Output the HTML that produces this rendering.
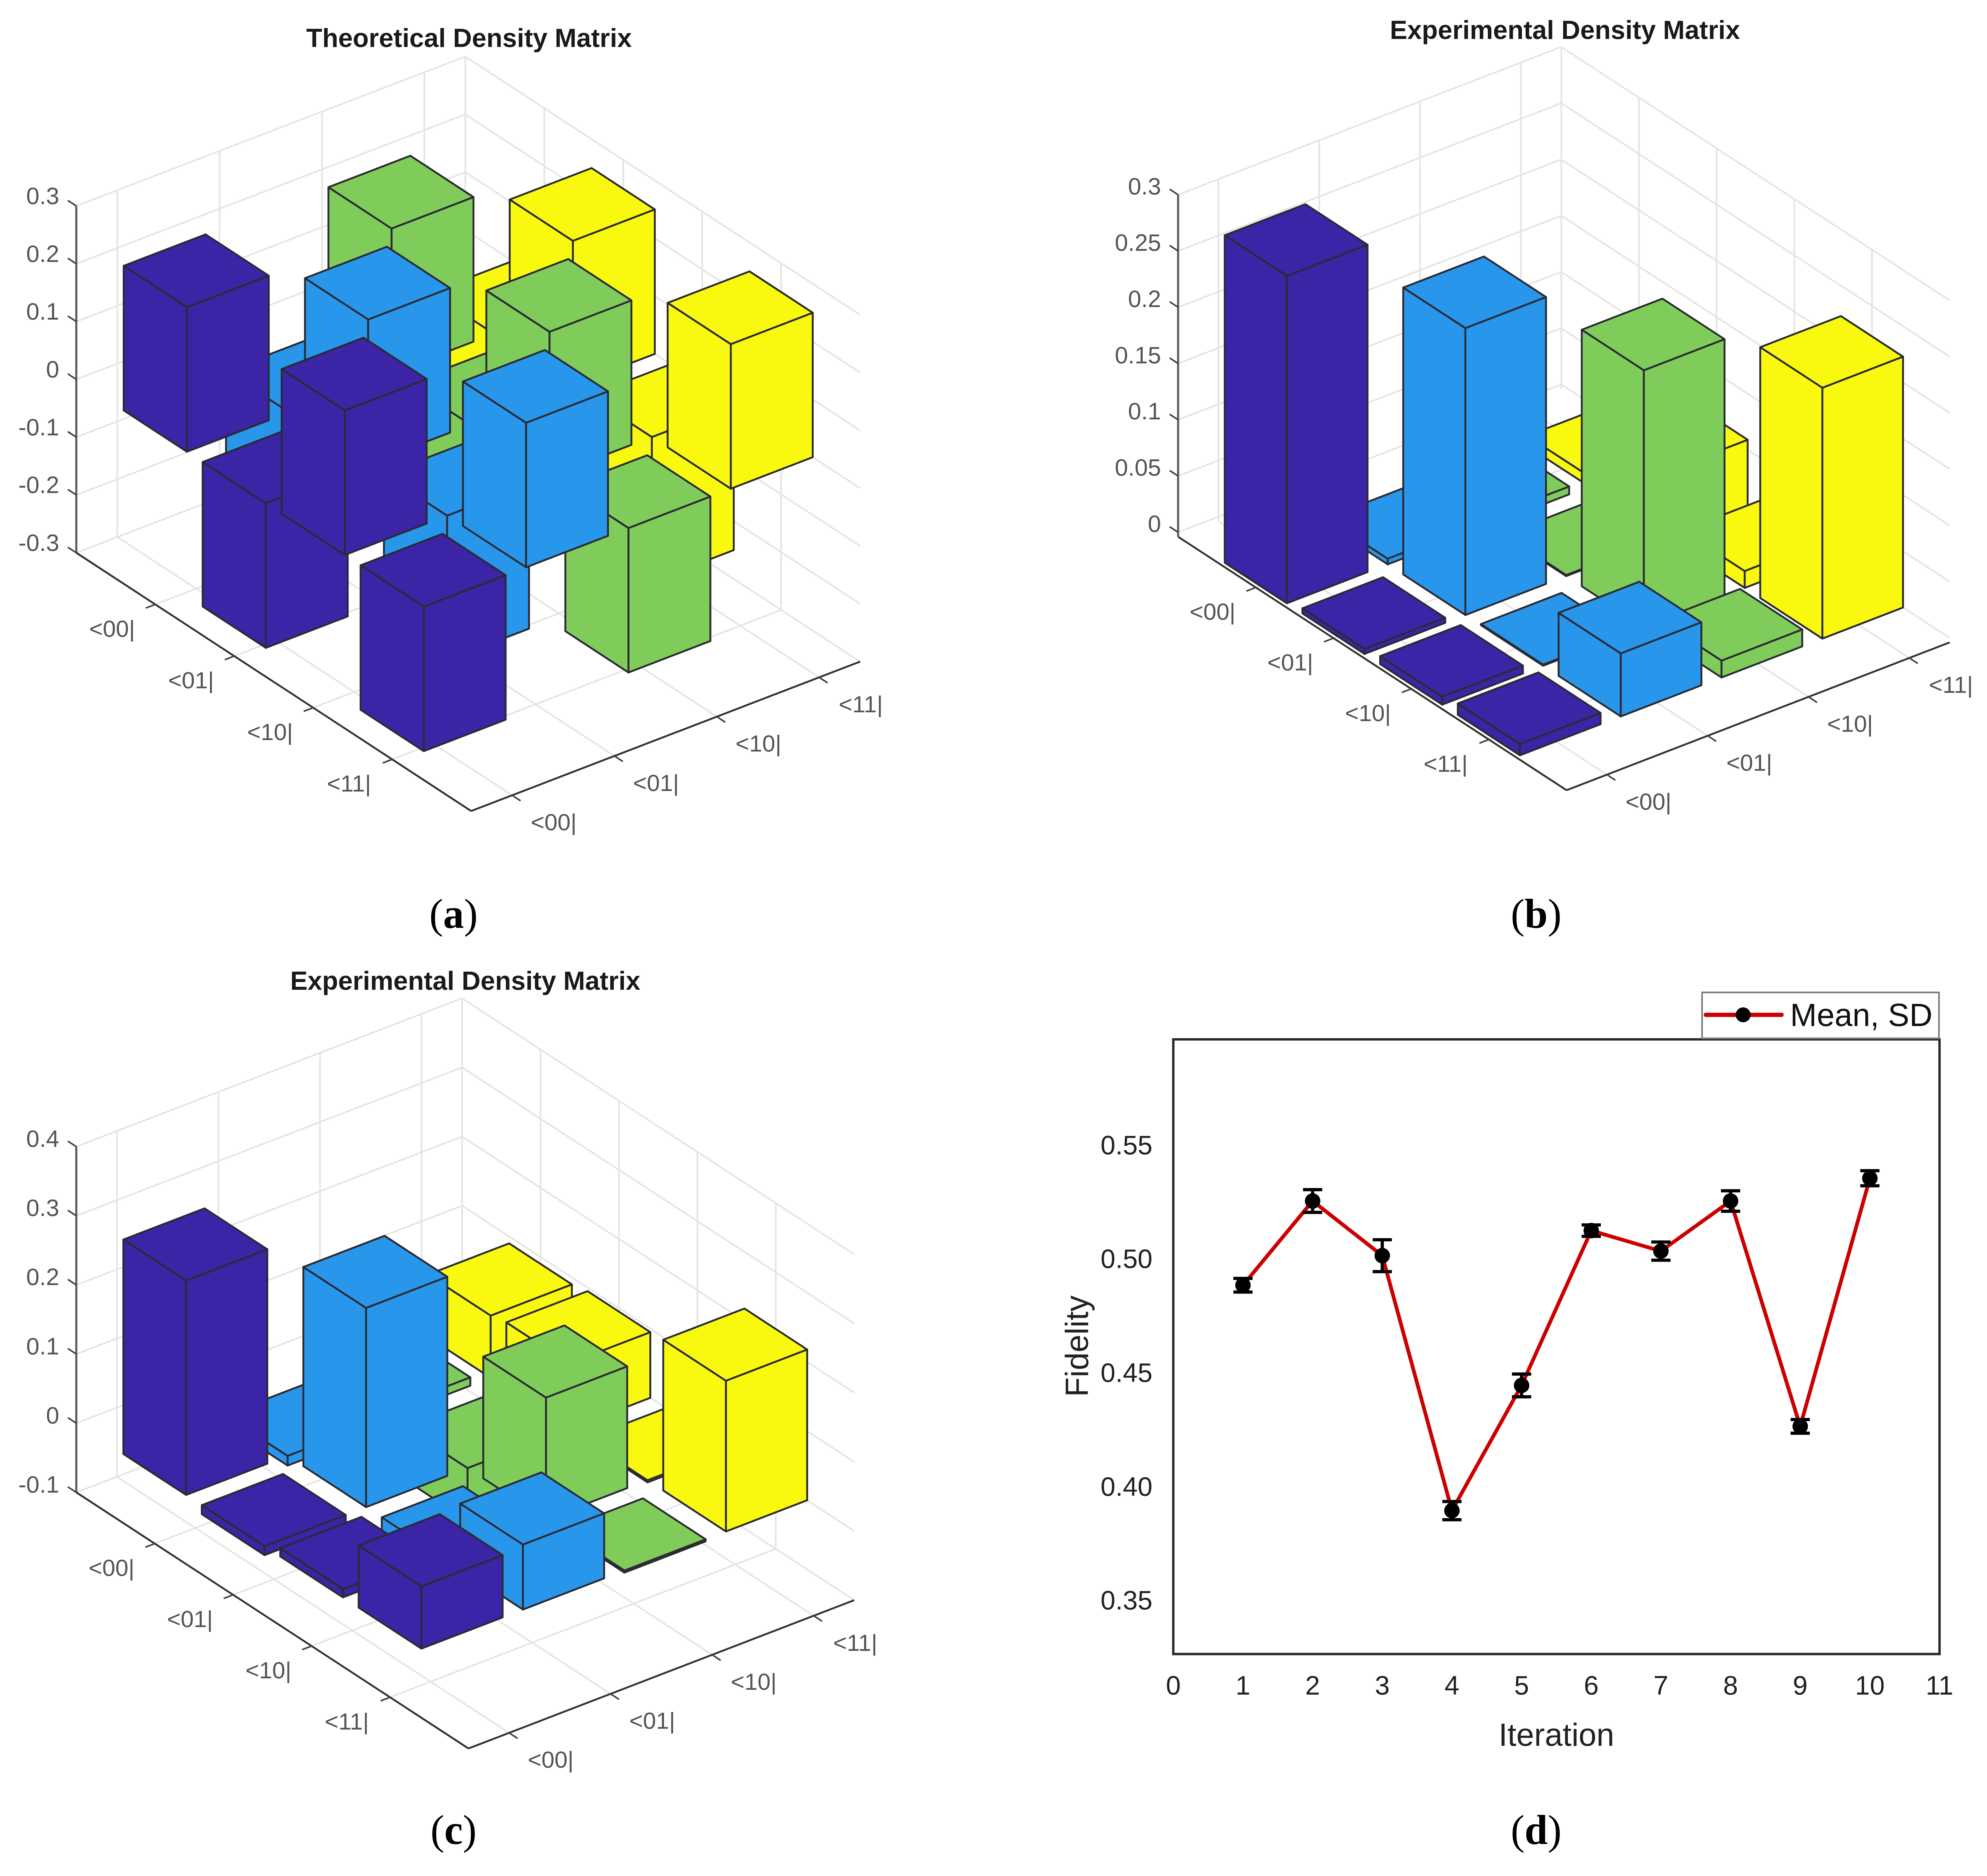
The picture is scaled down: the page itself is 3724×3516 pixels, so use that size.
<!DOCTYPE html>
<html lang="en">
<head>
<meta charset="utf-8">
<title>Density matrices and fidelity</title>
<style>
html,body{margin:0;padding:0;background:#fff;}
svg{display:block;filter:blur(0.8px);}
text{font-family:"Liberation Sans",Arial,sans-serif;}
.cap{font-family:"Liberation Serif","Times New Roman",serif;font-size:78px;fill:#000;text-anchor:middle;}
.title3d{font-size:49px;font-weight:bold;fill:#1a1a1a;text-anchor:middle;}
</style>
</head>
<body>
<svg id="figure" xmlns="http://www.w3.org/2000/svg" width="3724" height="3516" viewBox="0 0 3724 3516">
  <rect x="0" y="0" width="3724" height="3516" fill="#ffffff"/>

  <g id="panel-a"></g>
  <g id="panel-b"></g>
  <g id="panel-c"></g>
  <g id="panel-d"></g>

  <text class="title3d" x="879" y="88">Theoretical Density Matrix</text>
  <text class="title3d" x="2933" y="73">Experimental Density Matrix</text>
  <text class="title3d" x="872" y="1855">Experimental Density Matrix</text>

  <text class="cap" x="850" y="1739">(<tspan font-weight="bold">a</tspan>)</text>
  <text class="cap" x="2879" y="1739">(<tspan font-weight="bold">b</tspan>)</text>
  <text class="cap" x="850" y="3456">(<tspan font-weight="bold">c</tspan>)</text>
  <text class="cap" x="2879" y="3456">(<tspan font-weight="bold">d</tspan>)</text>

  <text x="2917" y="3272" font-size="60" fill="#222" text-anchor="middle">Iteration</text>
  <text x="0" y="0" transform="translate(2039,2523) rotate(-90)" font-size="60" fill="#222" text-anchor="middle">Fidelity</text>

  <g>
    <rect x="3190" y="1860" width="444" height="86" fill="#fff" stroke="#7a7a7a" stroke-width="3"/>
    <line x1="3197" y1="1902" x2="3339" y2="1902" stroke="#cc0000" stroke-width="8" stroke-linecap="round"/>
    <circle cx="3267" cy="1902" r="14" fill="#000"/>
    <text x="3355" y="1923" font-size="60" fill="#111">Mean, SD</text>
  </g>
</svg>

<script>
// ---------- Chart data ----------
const basisLabels = ['<00|', '<01|', '<10|', '<11|'];

// density matrices: one row per <row| label, one value per column
const theoreticalValues = [
  [ 0.25, -0.25,  0.25, -0.25],
  [-0.25,  0.25, -0.25,  0.25],
  [ 0.25, -0.25,  0.25, -0.25],
  [-0.25,  0.25, -0.25,  0.25]
];
const experimentalValuesB = [
  [0.291, 0.005, 0.007, 0.009],
  [0.0045, 0.255, 0.001, 0.059],
  [0.007, 0.001, 0.228, 0.015],
  [0.010, 0.056, 0.015, 0.223]
];
const experimentalValuesC = [
  [ 0.310, -0.014,  0.012,  0.090],
  [-0.013,  0.288, -0.076,  0.095],
  [ 0.012, -0.040,  0.176, -0.003],
  [ 0.090,  0.094, -0.003,  0.218]
];
const zTicksA = [-0.3, -0.2, -0.1, 0, 0.1, 0.2, 0.3];
const zTicksB = [0, 0.05, 0.1, 0.15, 0.2, 0.25, 0.3];
const zTicksC = [-0.1, 0, 0.1, 0.2, 0.3, 0.4];

const iterations = [1, 2, 3, 4, 5, 6, 7, 8, 9, 10];
const fidelityMeans = [0.488, 0.525, 0.501, 0.389, 0.444, 0.512, 0.503, 0.525, 0.426, 0.535];
const fidelitySds = [0.003, 0.005, 0.007, 0.004, 0.005, 0.0025, 0.004, 0.0045, 0.003, 0.0033];
const xTicksD = [0, 1, 2, 3, 4, 5, 6, 7, 8, 9, 10, 11];
const yTicksD = [0.35, 0.40, 0.45, 0.50, 0.55];

// ---------- Helpers ----------
const NS = 'http://www.w3.org/2000/svg';
function make(tag, attrs, parent) {
  const el = document.createElementNS(NS, tag);
  for (const k in attrs) el.setAttribute(k, attrs[k]);
  parent.appendChild(el);
  return el;
}
const barColors = ['#3b25a6', '#2896ea', '#80cc5a', '#f9f90f'];
const R_MIN = 0, R_MAX = 5, C_MIN = 0.6, C_MAX = 4.4, HALF = 0.4;

function draw3d(rootId, values, zTicks, geo, prefix) {
  const root = document.getElementById(rootId);
  const zMin = geo.zFloor !== undefined ? geo.zFloor : zTicks[0];
  const zMax = zTicks[zTicks.length - 1];
  // axis function: data space (row, col, z) to screen
  function P(r, c, z) {
    const u = (r - R_MIN) / (R_MAX - R_MIN);
    const v = (c - C_MIN) / (C_MAX - C_MIN);
    const w = (z - zMin) / (zMax - zMin);
    return [geo.Lx + u * geo.Ax + v * geo.Bx, geo.Ly + u * geo.Ay + v * geo.By - w * geo.H];
  }
  function seg(p, q, stroke, width, parent) {
    return make('line', {x1: p[0], y1: p[1], x2: q[0], y2: q[1], stroke: stroke, 'stroke-width': width}, parent);
  }
  const grid = make('g', {fill: 'none'}, root);
  
  
  const GC = '#e4e4e4', GW = 3;
  basisLabels.forEach(function (_, i) {
    const t = i + 1;
    seg(P(t, C_MIN, zMin), P(t, C_MAX, zMin), GC, GW, grid);   // floor
    seg(P(R_MIN, t, zMin), P(R_MAX, t, zMin), GC, GW, grid);   // floor
    seg(P(R_MIN, t, zMin), P(R_MIN, t, zMax), GC, GW, grid);   // back-left wall
    seg(P(t, C_MAX, zMin), P(t, C_MAX, zMax), GC, GW, grid);   // back-right wall
  });
  zTicks.forEach(function (z) {
    seg(P(R_MIN, C_MIN, z), P(R_MIN, C_MAX, z), GC, GW, grid);
    seg(P(R_MIN, C_MAX, z), P(R_MAX, C_MAX, z), GC, GW, grid);
  });
  seg(P(R_MIN, C_MAX, zMin), P(R_MIN, C_MAX, zMax), GC, GW, grid);

  // axes and ticks
  const axes = make('g', {}, root);
  
  
  const zAxis = seg(P(R_MIN, C_MIN, zMin), P(R_MIN, C_MIN, zMax), '#5f5f5f', 4, axes);
  
  
  const rowAxis = seg(P(R_MIN, C_MIN, zMin), P(R_MAX, C_MIN, zMin), '#333', 3.5, axes);
  
  
  const colAxis = seg(P(R_MAX, C_MIN, zMin), P(R_MAX, C_MAX, zMin), '#333', 3.5, axes);
  
  

  const lenA = Math.hypot(geo.Ax, geo.Ay), lenB = Math.hypot(geo.Bx, geo.By), S = 19;
  const aDir = [geo.Ax / lenA * S, geo.Ay / lenA * S], bDir = [geo.Bx / lenB * S, geo.By / lenB * S];

  zTicks.forEach(function (z) {
    const p = P(R_MIN, C_MIN, z);
    seg(p, [p[0] - aDir[0], p[1] - aDir[1]], '#444', 3, axes);
    const t = make('text', {x: p[0] - 32, y: p[1] + geo.zLabelDy, 'font-size': 44.5, fill: '#555', 'text-anchor': 'end', 'dominant-baseline': 'central'}, axes);
    t.textContent = String(z);
    
    
  });
  basisLabels.forEach(function (lab, i) {
    const p = P(i + 1, C_MIN, zMin);
    seg(p, [p[0] - bDir[0], p[1] - bDir[1]], '#444', 3, axes);
    const t = make('text', {x: p[0] - 81, y: p[1] + 46, 'font-size': 44, fill: '#555', 'text-anchor': 'middle', 'dominant-baseline': 'central'}, axes);
    t.textContent = lab;
    
    

    const q = P(R_MAX, i + 1, zMin);
    seg(q, [q[0] + aDir[0], q[1] + aDir[1]], '#444', 3, axes);
    const s = make('text', {x: q[0] + 78, y: q[1] + 51, 'font-size': 44, fill: '#555', 'text-anchor': 'middle', 'dominant-baseline': 'central'}, axes);
    s.textContent = lab;
    
    
  });

  // bars, back to front
  for (let r = 1; r <= values.length; r++) {
    for (let c = values[r - 1].length; c >= 1; c--) {
      const v = values[r - 1][c - 1];
      const top = Math.max(0, v), bot = Math.min(0, v);
      const r0 = r - HALF, r1 = r + HALF, c0 = c - HALF, c1 = c + HALF;
      const g = make('g', {fill: barColors[c - 1], stroke: '#2a2a33', 'stroke-width': 3.5, 'stroke-linejoin': 'round'}, root);
      
      
      const poly = function (pts) {
        make('polygon', {points: pts.map(function (p) { return p[0].toFixed(1) + ',' + p[1].toFixed(1); }).join(' ')}, g);
      };
      poly([P(r0, c0, bot), P(r1, c0, bot), P(r1, c0, top), P(r0, c0, top)]);   // left-front face
      poly([P(r1, c0, bot), P(r1, c1, bot), P(r1, c1, top), P(r1, c0, top)]);   // right-front face
      poly([P(r0, c0, top), P(r1, c0, top), P(r1, c1, top), P(r0, c1, top)]);   // top face
    }
  }
}

draw3d('panel-a', theoreticalValues, zTicksA, {Lx: 143, Ly: 1036, Ax: 740, Ay: 484, Bx: 729, By: -280, H: 650, zLabelDy: -18}, 'chart-a');
draw3d('panel-b', experimentalValuesB, zTicksB, {Lx: 2208, Ly: 1006, Ax: 728, Ay: 475, Bx: 718, By: -277, H: 641, zFloor: -0.004, zLabelDy: -15}, 'chart-b');
draw3d('panel-c', experimentalValuesC, zTicksC, {Lx: 143, Ly: 2797, Ax: 735, Ay: 480, Bx: 723, By: -278, H: 648, zLabelDy: -14}, 'chart-c');

// ---------- Panel d ----------
(function () {
  const root = document.getElementById('panel-d');
  const left = 2199, right = 3635, top = 1948, bottom = 3100;
  const xMin = 0, xMax = 11, yMin = 0.326, yMax = 0.596;
  const X = function (v) { return left + (v - xMin) / (xMax - xMin) * (right - left); };
  const Y = function (v) { return bottom - (v - yMin) / (yMax - yMin) * (bottom - top); };

  const frame = make('rect', {x: left, y: top, width: right - left, height: bottom - top, fill: 'none', stroke: '#2a2a2a', 'stroke-width': 4.5}, root);
  
  

  xTicksD.forEach(function (v) {
    const t = make('text', {x: X(v), y: 3176, 'font-size': 50, fill: '#222', 'text-anchor': 'middle'}, root);
    t.textContent = String(v);
    
    
  });
  yTicksD.forEach(function (v) {
    const t = make('text', {x: 2160, y: Y(v) + 2, 'font-size': 50, fill: '#222', 'text-anchor': 'end', 'dominant-baseline': 'central'}, root);
    t.textContent = v.toFixed(2);
    
    
  });

  const pts = iterations.map(function (it, i) { return X(it).toFixed(1) + ',' + Y(fidelityMeans[i]).toFixed(1); }).join(' ');
  const line = make('polyline', {points: pts, fill: 'none', stroke: '#cc0000', 'stroke-width': 7, 'stroke-linejoin': 'round'}, root);
  
  

  iterations.forEach(function (it, i) {
    const g = make('g', {stroke: '#000', 'stroke-width': 6}, root);
    
    
    const x = X(it), hi = Y(fidelityMeans[i] + fidelitySds[i]), lo = Y(fidelityMeans[i] - fidelitySds[i]);
    make('line', {x1: x, y1: hi, x2: x, y2: lo}, g);
    make('line', {x1: x - 18, y1: hi, x2: x + 18, y2: hi}, g);
    make('line', {x1: x - 18, y1: lo, x2: x + 18, y2: lo}, g);
    const m = make('circle', {cx: x, cy: Y(fidelityMeans[i]), r: 14.5, fill: '#000'}, root);
    
    
  });
})();
</script>
</body>
</html>
